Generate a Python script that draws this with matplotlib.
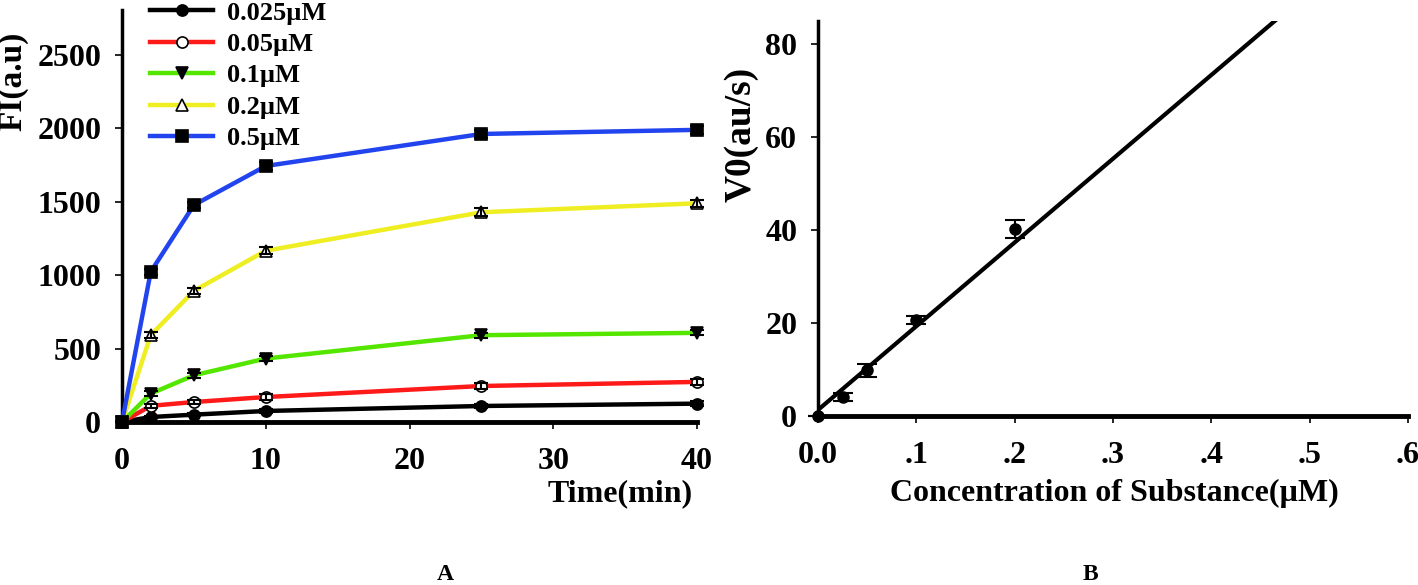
import numpy as np
import matplotlib
matplotlib.use('Agg')
import matplotlib.pyplot as plt

plt.rcParams['font.family'] = ['Liberation Serif', 'DejaVu Serif']
plt.rcParams['font.weight'] = 'bold'

# panel A: fluorescence vs time
tiempo = [0, 2, 5, 10, 25, 40]
etiquetas = ['0.025µM', '0.05µM', '0.1µM', '0.2µM', '0.5µM']
fi_0025 = [0, 34, 50, 75, 109, 125]
fi_005 = [0, 110, 136, 170, 245, 273]
fi_01 = [0, 193, 318, 432, 591, 607]
fi_02 = [0, 591, 893, 1166, 1428, 1489]
fi_05 = [0, 1023, 1477, 1743, 1961, 1989]
err_0025 = [0, 10, 10, 12, 15, 15]
err_005 = [0, 15, 15, 18, 18, 18]
err_01 = [0, 15, 18, 18, 18, 18]
err_02 = [0, 20, 20, 25, 28, 25]
err_05 = [0, 22, 20, 25, 30, 25]

# panel B: initial rate vs concentration
conc = [0, 0.025, 0.05, 0.1, 0.2]
v0 = [0, 4.1, 9.8, 20.7, 40.2]
v0_err = [0, 0.8, 1.45, 0.9, 1.9]
ajuste_pendiente = 180.0
ajuste_intercepto = 1.3

fig = plt.figure(figsize=(14.18, 5.85), dpi=100)
ax1 = fig.add_axes([122/1418, 1-422/585, (697-122)/1418, (422-10)/585])
ax2 = fig.add_axes([818/1418, 1-416/585, (1408-818)/1418, (416-21)/585])

series = [
    (fi_0025, err_0025, 'black', 'o', 'black'),
    (fi_005, err_005, '#ff1a1a', 'o', 'white'),
    (fi_01, err_01, '#55e600', 'v', 'black'),
    (fi_02, err_02, '#eeee22', '^', 'white'),
    (fi_05, err_05, '#2244ee', 's', 'black'),
]
for (y, e, c, m, fc), lab in zip(series, etiquetas):
    ax1.errorbar(tiempo, y, yerr=e, fmt='none', ecolor='black', elinewidth=1.5,
                 capsize=5, capthick=1.5, zorder=5, clip_on=False)
    ax1.plot(tiempo, y, color=c, lw=3.2, marker=m, markersize=8, markerfacecolor=fc,
             markeredgecolor='black', markeredgewidth=1.2, label=lab, zorder=4, clip_on=False)

ax1.set_xlim(0, 40)
ax1.set_ylim(0, 2805)
ax1.set_xticks([0, 10, 20, 30, 40])
ax1.set_yticks([0, 500, 1000, 1500, 2000, 2500])
ax1.set_ylabel('FI(a.u)', fontsize=24, fontweight='bold')
ax1.yaxis.set_label_coords(-0.162, 0.828)
ax1.set_xlabel('Time(min)', fontsize=23, fontweight='bold')
ax1.xaxis.set_label_coords(0.866, -0.138)
ax1.legend(loc='upper left', bbox_to_anchor=(150/1418, 0.998), bbox_transform=fig.transFigure,
           frameon=False, fontsize=19, handlelength=2.4, handletextpad=0.5, labelspacing=0.3,
           borderaxespad=0, borderpad=0)

ax2.errorbar(conc, v0, yerr=v0_err, fmt='o', color='black', markersize=8, elinewidth=1.5,
             capsize=7, capthick=1.5, zorder=4, clip_on=False)
xs = np.array([0, 0.6])
ax2.plot(xs, ajuste_intercepto + ajuste_pendiente * xs, color='black', lw=3, zorder=3)
ax2.set_xlim(0, 0.6)
ax2.set_ylim(0, 84.9)
ax2.set_xticks([0, 0.1, 0.2, 0.3, 0.4, 0.5, 0.6])
ax2.set_xticklabels(['0.0', '.1', '.2', '.3', '.4', '.5', '.6'])
ax2.set_yticks([0, 20, 40, 60, 80])
ax2.set_ylabel('V0(au/s)', fontsize=27, fontweight='bold')
ax2.yaxis.set_label_coords(-0.1, 0.714)
ax2.set_xlabel('Concentration of Substance(µM)', fontsize=23, fontweight='bold')
ax2.xaxis.set_label_coords(0.503, -0.16)

for ax in (ax1, ax2):
    ax.spines['top'].set_visible(False)
    ax.spines['right'].set_visible(False)
    ax.spines['left'].set_linewidth(2.5)
    ax.spines['bottom'].set_linewidth(3.5)
    ax.tick_params(direction='out', length=5, width=1.2, labelsize=23)
    ax.tick_params(axis='x', pad=13)
    ax.tick_params(axis='y', pad=10)
    for t in ax.get_xticklabels() + ax.get_yticklabels():
        t.set_fontweight('bold')

fig.text(445/1418, 1-575/585, 'A', fontsize=17, fontweight='bold', ha='center', va='center')
fig.text(1090/1418, 1-575/585, 'B', fontsize=17, fontweight='bold', ha='center', va='center')

fig.savefig('out.png', dpi=100)
